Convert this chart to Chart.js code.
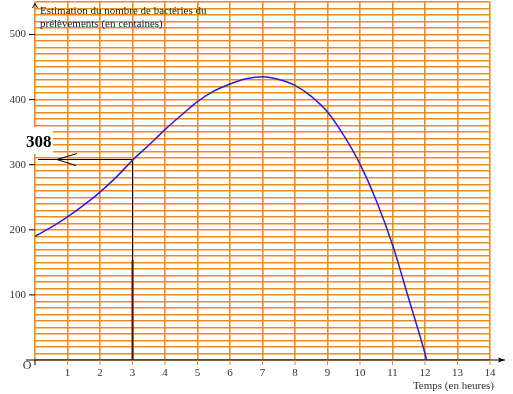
<!DOCTYPE html>
<html><head><meta charset="utf-8">
<script src="https://cdn.jsdelivr.net/npm/chart.js@4/dist/chart.umd.min.js"></script>
<style>html,body{margin:0;padding:0;background:#fff;}canvas{display:block;}</style>
</head><body>
<canvas id="c" width="513" height="394"></canvas>
<script>
const hours = [0,0.5,1,1.5,2,2.5,3,3.5,4,4.5,5,5.5,6,6.5,7,7.5,8,8.5,9,9.5,10,10.5,11,11.5,12,12.05];
const bacteria = [190,204,220,238,258,281,307,330,354,376,397,413,424,432,435,431,422,405,381,345,301,245,177,94,10,0];
const yTickLabels = [100,200,300,400,500];
const xTickLabels = [1,2,3,4,5,6,7,8,9,10,11,12,13,14];
const readHour = 3;
const readValue = 308;
const titleLines = ["Estimation du nombre de bactéries du","prélèvements (en centaines)"];
const xTitle = "Temps (en heures)";

const GRID = 'rgb(236,140,30)';
const overlay = {
  id:'overlay',
  beforeDatasetsDraw(chart){
    const ctx=chart.ctx, x=chart.scales.x, y=chart.scales.y;
    const x0=x.getPixelForValue(0), y0=y.getPixelForValue(0);
    ctx.save();
    ctx.fillStyle='#fff';
    ctx.fillRect(24,127,29,27);
    ctx.fillStyle='#222';
    ctx.font='11px "Liberation Serif"';
    ctx.textBaseline='middle';ctx.textAlign='left';
    ctx.fillText(titleLines[0],40,11);
    ctx.fillText(titleLines[1],40,24);
    ctx.strokeStyle='#000';ctx.lineWidth=1.2;
    ctx.beginPath();ctx.moveTo(26,y0);ctx.lineTo(505,y0);ctx.stroke();
    ctx.beginPath();ctx.moveTo(505,y0);ctx.lineTo(498,y0-2.5);ctx.lineTo(499.5,y0);ctx.lineTo(498,y0+2.5);ctx.closePath();ctx.fillStyle='#000';ctx.fill();
    ctx.lineWidth=1;
    ctx.beginPath();ctx.moveTo(x0-2.5,8);ctx.lineTo(x0,3.5);ctx.lineTo(x0+2.5,8);ctx.stroke();
    ctx.beginPath();ctx.moveTo(x0,y0);ctx.lineTo(x0,y0+5);ctx.stroke();
    ctx.font='11px "Liberation Serif"';ctx.textAlign='center';
    xTickLabels.forEach(v=>{
      const px=x.getPixelForValue(v);
      ctx.strokeStyle=GRID;ctx.beginPath();ctx.moveTo(px,y0);ctx.lineTo(px,y0+5);ctx.stroke();
      ctx.fillStyle='#333';ctx.fillText(String(v),px,373);
    });
    ctx.textAlign='right';
    yTickLabels.forEach(v=>{
      const py=y.getPixelForValue(v);
      ctx.strokeStyle='#000';ctx.beginPath();ctx.moveTo(x0-6,py);ctx.lineTo(x0,py);ctx.stroke();
      ctx.fillStyle='#333';ctx.fillText(String(v),26,py);
    });
    ctx.textAlign='center';ctx.font='12px "Liberation Serif"';
    ctx.fillText('O',27,366);
    ctx.textAlign='right';ctx.font='11px "Liberation Serif"';
    ctx.fillText(xTitle,494,386);
    const rx=x.getPixelForValue(readHour), ry=y.getPixelForValue(readValue);
    ctx.strokeStyle='#000';ctx.lineWidth=1;
    ctx.beginPath();ctx.moveTo(38,ry);ctx.lineTo(rx,ry);ctx.lineTo(rx,y0);ctx.stroke();
    ctx.beginPath();ctx.moveTo(77,ry-6);ctx.lineTo(57,ry);ctx.lineTo(76,ry+6);ctx.stroke();
    ctx.strokeStyle='#4a1500';ctx.lineWidth=2;
    ctx.beginPath();ctx.moveTo(rx,y.getPixelForValue(153));ctx.lineTo(rx,y0);ctx.stroke();
    ctx.fillStyle='#000';ctx.font='bold 17px "Liberation Serif"';ctx.textAlign='left';
    ctx.fillText(String(readValue),26,143);
    ctx.restore();
  }
};

new Chart(document.getElementById('c'),{
  type:'line',
  data:{datasets:[{
    data:hours.map((h,i)=>({x:h,y:bacteria[i]})),
    borderColor:'rgb(40,30,220)',borderWidth:1.5,pointRadius:0,
    tension:0.4,cubicInterpolationMode:'monotone',fill:false
  }]},
  options:{
    responsive:false,animation:false,devicePixelRatio:1,
    layout:{padding:{left:35,right:23,top:2,bottom:34}},
    plugins:{legend:{display:false},tooltip:{enabled:false}},
    scales:{
      x:{type:'linear',min:0,max:14,
        ticks:{display:false,stepSize:1,maxTicksLimit:1000},
        grid:{color:GRID,lineWidth:1.6,drawTicks:false},border:{display:false}},
      y:{type:'linear',min:0,max:550,
        ticks:{display:false,stepSize:10,maxTicksLimit:1000},
        grid:{color:GRID,lineWidth:1.5,drawTicks:false},border:{display:false}}
    }
  },
  plugins:[overlay]
});
</script>
</body></html>
